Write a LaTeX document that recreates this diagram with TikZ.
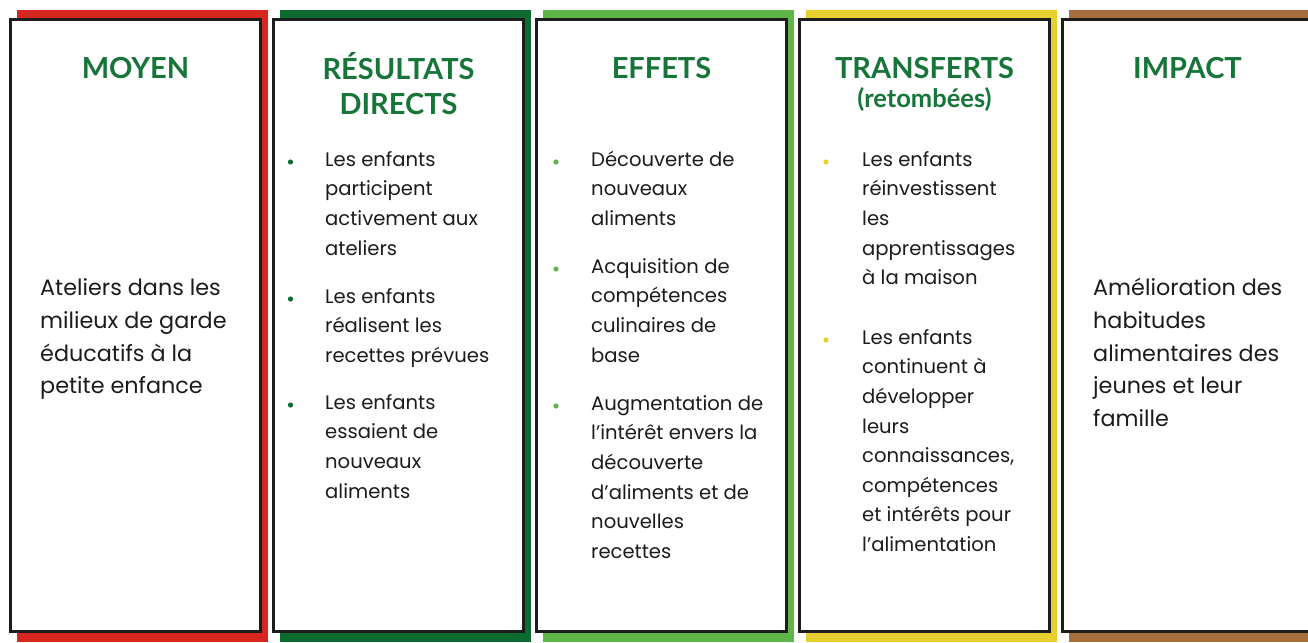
\documentclass[tikz,border=0pt]{standalone}
\usepackage{fontspec}
\setmainfont{Poppins}
\newfontfamily\ttlfont{Lato}
\definecolor{cred}{HTML}{D7261F}
\definecolor{cdkgreen}{HTML}{0C6B2E}
\definecolor{cltgreen}{HTML}{5FB547}
\definecolor{cyellow}{HTML}{E6CF2E}
\definecolor{cbrown}{HTML}{A66D3F}
\definecolor{ctitle}{HTML}{17753A}
\definecolor{ctext}{HTML}{1C1C1C}
\newcommand\topstrut{\rule{0pt}{20pt}}
\newcommand\ttlstrut{\rule{0pt}{26pt}}
\begin{document}
\begin{tikzpicture}[x=1pt,y=-1pt,
  band/.style={rectangle, inner sep=0pt, anchor=north west, minimum width=251pt, minimum height=632pt},
  panel/.style={rectangle, draw=ctext, line width=3pt, fill=white, inner sep=0pt, minimum width=250pt, minimum height=612pt},
  ttl/.style={font=\ttlfont\bfseries\fontsize{29}{35}\selectfont, text=ctitle, align=center, inner sep=0pt},
  body/.style={font=\fontsize{19.6}{29.6}\selectfont, text=ctext, align=left, anchor=north west, inner sep=0pt},
  bigbody/.style={font=\fontsize{22.3}{32.7}\selectfont, text=ctext, align=left, anchor=north west, inner sep=0pt},
  dot/.style={circle, inner sep=0pt, minimum size=5.2pt}]
\useasboundingbox (0,0) rectangle (1308,642);
% coloured bands
\node[band, fill=cred] (c1) at (17,10) {};
\node[band, fill=cdkgreen] (c2) at (280,10) {};
\node[band, fill=cltgreen] (c3) at (543,10) {};
\node[band, fill=cyellow] (c4) at (806,10) {};
\node[band, fill=cbrown] (c5) at (1069,10) {};
% white panels
\node[panel] (p1) at (135.5,325.5) {};
\node[panel] (p2) at (398.5,325.5) {};
\node[panel] (p3) at (661.5,325.5) {};
\node[panel] (p4) at (924.5,325.5) {};
\node[panel] (p5) at (1187.5,325.5) {};
% titles
\node[ttl, anchor=base] (h1) at (135.5,78) {MOYEN};
\node[ttl, anchor=north] (h2) at (398.5,52) {\ttlstrut RÉSULTATS\\DIRECTS};
\node[ttl, anchor=base] (h3) at (661.5,78) {EFFETS};
\node[ttl, anchor=base] (h4) at (924.5,78) {TRANSFERTS};
\node[ttl, anchor=base, font=\ttlfont\bfseries\fontsize{25.5}{28}\selectfont] (h4b) at (924.5,107) {(retombées)};
\node[ttl, anchor=base] (h5) at (1187.5,78) {IMPACT};
% column 1
\node[bigbody] (t1) at (40,275.5) {\topstrut Ateliers dans les\\milieux de garde\\éducatifs à la\\petite enfance};
% column 2
\node[dot, fill=cdkgreen] (d2a) at (290.5,162) {};
\node[body] (t2a) at (325,146) {\topstrut Les enfants\\participent\\activement aux\\ateliers};
\node[dot, fill=cdkgreen] (d2b) at (290.5,299) {};
\node[body] (t2b) at (325,283) {\topstrut Les enfants\\réalisent les\\recettes prévues};
\node[dot, fill=cdkgreen] (d2c) at (290.5,405) {};
\node[body] (t2c) at (325,389) {\topstrut Les enfants\\essaient de\\nouveaux\\aliments};
% column 3
\node[dot, fill=cltgreen] (d3a) at (556,162) {};
\node[body] (t3a) at (591,146) {\topstrut Découverte de\\nouveaux\\aliments};
\node[dot, fill=cltgreen] (d3b) at (556,269) {};
\node[body] (t3b) at (591,253) {\topstrut Acquisition de\\compétences\\culinaires de\\base};
\node[dot, fill=cltgreen] (d3c) at (556,406) {};
\node[body] (t3c) at (591,390) {\topstrut Augmentation de\\l’intérêt envers la\\découverte\\d’aliments et de\\nouvelles\\recettes};
% column 4
\node[dot, fill=cyellow] (d4a) at (826,162) {};
\node[body] (t4a) at (862,146) {\topstrut Les enfants\\réinvestissent\\les\\apprentissages\\à la maison};
\node[dot, fill=cyellow] (d4b) at (826,340) {};
\node[body] (t4b) at (862,324) {\topstrut Les enfants\\continuent à\\développer\\leurs\\connaissances,\\compétences\\et intérêts pour\\l’alimentation};
% column 5
\node[bigbody] (t5) at (1093,275.5) {\topstrut Amélioration des\\habitudes\\alimentaires des\\jeunes et leur\\famille};
\end{tikzpicture}
\end{document}
